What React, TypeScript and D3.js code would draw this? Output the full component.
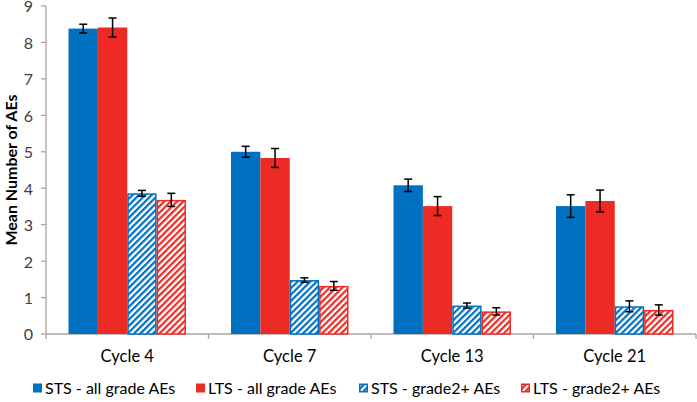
import React from "react";
import * as d3 from "d3";

const categories = ["Cycle 4", "Cycle 7", "Cycle 13", "Cycle 21"];
const seriesNames = ["STS - all grade AEs", "LTS - all grade AEs", "STS - grade2+ AEs", "LTS - grade2+ AEs"];
const stsAll = [8.38, 5.0, 4.08, 3.51];
const stsAllErr = [0.12, 0.15, 0.17, 0.31];
const ltsAll = [8.41, 4.83, 3.51, 3.65];
const ltsAllErr = [0.26, 0.26, 0.26, 0.3];
const stsG2 = [3.86, 1.48, 0.78, 0.76];
const stsG2Err = [0.08, 0.06, 0.07, 0.15];
const ltsG2 = [3.68, 1.32, 0.62, 0.66];
const ltsG2Err = [0.18, 0.12, 0.1, 0.14];
const yTicks = [0, 1, 2, 3, 4, 5, 6, 7, 8, 9];

const BLUE = "#0070C0";
const RED = "#EE2A24";

const series = [
  { name: seriesNames[0], values: stsAll, errs: stsAllErr, color: BLUE, hatch: false },
  { name: seriesNames[1], values: ltsAll, errs: ltsAllErr, color: RED, hatch: false },
  { name: seriesNames[2], values: stsG2, errs: stsG2Err, color: BLUE, hatch: true },
  { name: seriesNames[3], values: ltsG2, errs: ltsG2Err, color: RED, hatch: true },
];

export default function App() {
  const W = 697, H = 402;
  const left = 46, right = 696, top = 6, bottom = 334;
  const font = "Lato, 'Open Sans', sans-serif";
  const x0 = d3.scaleBand<string>().domain(categories).range([left, right]).paddingInner(0).paddingOuter(0);
  const groupPad = 22.5;
  const x1 = d3.scaleBand<number>().domain(d3.range(series.length)).range([groupPad, x0.bandwidth() - groupPad]).padding(0);
  const y = d3.scaleLinear().domain([0, 9]).range([bottom, top]);
  const axisColor = "#A6A6A6";
  const patId = (i: number) => `hatch${i}`;
  const legendX = [33, 196, 359, 521];
  const legendY = 388;

  return (
    <svg width={W} height={H} style={{ position: "absolute", left: 0, top: 0, background: "#fff" }}>
      <defs>
        {series.map((s, i) =>
          s.hatch ? (
            <pattern key={i} id={patId(i)} patternUnits="userSpaceOnUse" width={4.5} height={4.5} patternTransform="rotate(45)">
              <rect width={4.5} height={4.5} fill="#fff" />
              <rect width={2.2} height={4.5} fill={s.color} />
            </pattern>
          ) : null
        )}
      </defs>
      {/* y axis */}
      <line x1={left} x2={left} y1={top} y2={bottom} stroke={axisColor} strokeWidth={1.3} />
      {yTicks.map((t) => (
        <g key={t}>
          <line x1={left - 5} x2={left} y1={y(t)} y2={y(t)} stroke={axisColor} strokeWidth={1.3} />
          <text x={33} y={y(t)} dy="0.4em" textAnchor="end" fontFamily={font} fontSize={16} fill="#404040">{t}</text>
        </g>
      ))}
      <text transform={`translate(11,${(top + bottom) / 2}) rotate(-90)`} textAnchor="middle" dy="0.35em" fontFamily={font} fontSize={16} fontWeight="bold" fill="#000">Mean Number of AEs</text>
      {/* x axis */}
      <line x1={left} x2={right} y1={bottom} y2={bottom} stroke={axisColor} strokeWidth={1.3} />
      {categories.map((c, i) => (
        <line key={"t" + i} x1={x0(c)!} x2={x0(c)!} y1={bottom} y2={bottom + 5} stroke={axisColor} strokeWidth={1.3} />
      ))}
      <line x1={right} x2={right} y1={bottom} y2={bottom + 5} stroke={axisColor} strokeWidth={1.3} />
      {categories.map((c) => (
        <text key={c} x={x0(c)! + x0.bandwidth() / 2} y={356} dy="0.35em" textAnchor="middle" fontFamily={font} fontSize={16.5} fill="#000">{c}</text>
      ))}
      {/* bars */}
      {categories.map((c, ci) => (
        <g key={c} transform={`translate(${x0(c)},0)`}>
          {series.map((s, si) => {
            const bx = x1(si)!;
            const bw = x1.bandwidth();
            const v = s.values[ci];
            return (
              <g key={si}>
                {s.hatch ? (
                  <rect x={bx + 0.75} y={y(v) + 0.75} width={bw - 1.5} height={y(0) - y(v) - 0.75} fill={`url(#${patId(si)})`} stroke={s.color} strokeWidth={1.5} />
                ) : (
                  <rect x={bx} y={y(v)} width={bw} height={y(0) - y(v)} fill={s.color} />
                )}
              </g>
            );
          })}
          {series.map((s, si) => {
            const cx = x1(si)! + x1.bandwidth() / 2;
            const v = s.values[ci];
            const e = s.errs[ci];
            return (
              <g key={"e" + si} stroke="#000" strokeWidth={1.5}>
                <line x1={cx} x2={cx} y1={y(v + e)} y2={y(v - e)} />
                <line x1={cx - 4} x2={cx + 4} y1={y(v + e)} y2={y(v + e)} />
                <line x1={cx - 4} x2={cx + 4} y1={y(v - e)} y2={y(v - e)} />
              </g>
            );
          })}
        </g>
      ))}
      {/* legend */}
      {series.map((s, i) => (
        <g key={"l" + i} transform={`translate(${legendX[i]},${legendY})`}>
          {s.hatch ? (
            <rect x={0.75} y={-3.75} width={7.5} height={7.5} fill={`url(#${patId(i)})`} stroke={s.color} strokeWidth={1.5} />
          ) : (
            <rect x={0} y={-4.5} width={9} height={9} fill={s.color} />
          )}
          <text x={12} y={0} dy="0.35em" fontFamily={font} fontSize={16} fill="#000">{s.name}</text>
        </g>
      ))}
    </svg>
  );
}
